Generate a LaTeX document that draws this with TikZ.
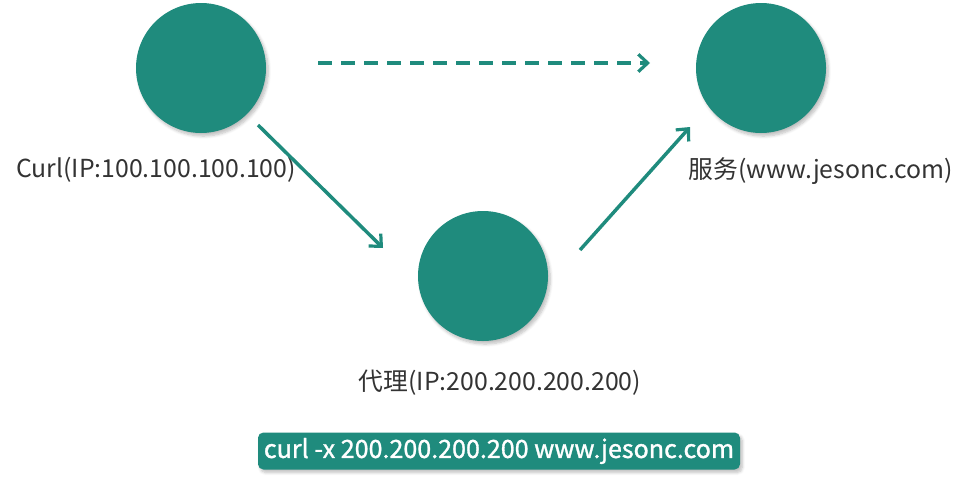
\documentclass[tikz,border=0pt]{standalone}
\usepackage{fontspec}
\setmainfont{Noto Sans CJK SC}
\newfontfamily\cmdfont[FakeBold=1.2]{Noto Sans CJK SC}
\usepackage{tikz}
\usetikzlibrary{arrows.meta, shadows.blur}
\definecolor{hostteal}{RGB}{31,139,125}
\definecolor{labelgray}{RGB}{51,51,51}
\tikzset{
  softshadow/.style={blur shadow={shadow blur steps=6,
    shadow xshift=0.6mm, shadow yshift=-0.8mm, shadow opacity=25}},
  hostdot/.style={circle, fill=hostteal, minimum size=97.5pt,
    inner sep=0pt, softshadow},
  hostlabel/.style={text=labelgray, font=\fontsize{18.6}{22}\selectfont,
    inner sep=0pt},
  link/.style={draw=hostteal, line width=2.6pt,
    -{Straight Barb[length=7pt, width=13pt, line width=2.4pt]}},
  cmdbox/.style={rounded corners=4pt, fill=hostteal, text=white,
    minimum width=361.5pt, minimum height=27.75pt, inner sep=0pt,
    font=\fontsize{18.8}{22}\cmdfont, softshadow},
}
\begin{document}
\begin{tikzpicture}[x=0.75pt, y=-0.75pt]
\useasboundingbox (0,0) rectangle (970,482);
% hosts
\node[hostdot] (curl)   at (201,68)  {};
\node[hostdot] (server) at (761,68)  {};
\node[hostdot] (proxy)  at (483,276) {};
% labels
\node[hostlabel] (curllabel)   at (156,170) {Curl(IP:100.100.100.100)};
\node[hostlabel] (serverlabel) at (821,171) {服务(www.jesonc.com)};
\node[hostlabel] (proxylabel)  at (500,383) {代理(IP:200.200.200.200)};
% connections
\draw[link, dash pattern=on 10.5pt off 6.75pt]
  ([shift={(117,-5)}]curl.center) -- ([shift={(-111,-5)}]server.center);
\draw[link] ([shift={(57,57)}]curl.center) -- ([shift={(-100,-28)}]proxy.center);
\draw[link] ([shift={(97,-26)}]proxy.center) -- ([shift={(-71,59)}]server.center);
% command
\node[cmdbox] (cmd) at (499,451) {curl -x 200.200.200.200 www.jesonc.com};
\end{tikzpicture}
\end{document}
